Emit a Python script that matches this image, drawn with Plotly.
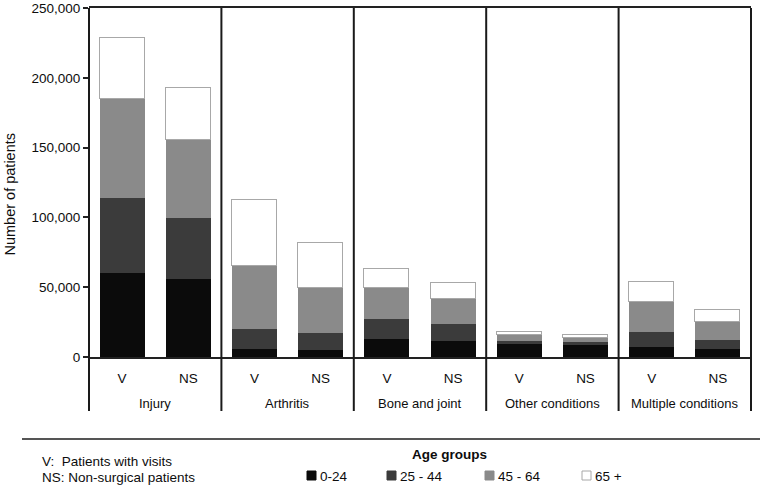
import plotly.graph_objects as go

# ---- data (patients) ----
conditions = ["Injury", "Arthritis", "Bone and joint", "Other conditions", "Multiple conditions"]
groups = ["V", "NS"]
age_groups = ["0-24", "25 - 44", "45 - 64", "65 +"]

# values per bar, ordered: Injury V, Injury NS, Arthritis V, Arthritis NS, ...
age_0_24 = [60500, 55700, 6000, 5200, 12900, 11500, 9600, 8800, 7400, 5500]
age_25_44 = [53500, 43800, 14300, 12000, 14400, 12200, 2100, 1700, 10800, 6900]
age_45_64 = [71000, 56200, 45000, 32500, 22400, 18100, 4100, 3400, 21000, 12700]
age_65_plus = [43500, 37300, 47200, 32300, 13400, 11100, 1900, 1700, 14800, 8600]

series = [age_0_24, age_25_44, age_45_64, age_65_plus]
fills = ["#0b0b0b", "#3b3b3b", "#8a8a8a", "#ffffff"]
borders = ["#0b0b0b", "#3b3b3b", "#8a8a8a", "#a8a8a8"]

y_ticks = [0, 50000, 100000, 150000, 200000, 250000]

# ---- geometry helpers (pixel -> paper) ----
W, H = 762, 488
L, R, T, B = 89, 11, 8, 131
PW, PH = W - L - R, H - T - B


def px(x):
    return (x - L) / PW


def py(y):
    return (H - B - y) / PH


FONT = "Liberation Sans, Arial, sans-serif"
TXT = "#0d0d0d"
ncat = len(conditions)
ng = len(groups)
xpos = [c * ng + j for c in range(ncat) for j in range(ng)]
xlabels = [g for _ in conditions for g in groups]

fig = go.Figure()
for name, vals, fc, lc in zip(age_groups, series, fills, borders):
    fig.add_trace(go.Bar(
        x=xpos, y=vals, name=name, width=0.68,
        marker=dict(color=fc, line=dict(color=lc, width=1.5 if fc == "#ffffff" else 0)),
        showlegend=False,
    ))

shapes = []
# vertical separators (category frames) extending into the label area
for k in range(ncat + 1):
    shapes.append(dict(type="line", xref="paper", yref="paper",
                       x0=k / ncat, x1=k / ncat, y0=py(411), y1=1,
                       line=dict(color="#1a1a1a", width=2)))
# horizontal rule above footer
shapes.append(dict(type="line", xref="paper", yref="paper",
                   x0=px(22), x1=px(760), y0=py(439), y1=py(439),
                   line=dict(color="#555555", width=2)))

annotations = []
for c, name in enumerate(conditions):
    annotations.append(dict(x=c * ng + (ng - 1) / 2, xref="x", y=py(403), yref="paper",
                            text=name, showarrow=False, xanchor="center", yanchor="middle",
                            font=dict(family=FONT, size=13, color=TXT)))

annotations.append(dict(x=px(9.5), xref="paper", y=py(194), yref="paper",
                        text="Number of patients", textangle=-90, showarrow=False,
                        xanchor="center", yanchor="middle",
                        font=dict(family=FONT, size=14.5, color=TXT)))

annotations.append(dict(x=px(40), xref="paper", y=py(461), yref="paper",
                        text="V:&nbsp;&nbsp;Patients with visits", showarrow=False,
                        xanchor="left", yanchor="middle",
                        font=dict(family=FONT, size=13.5, color=TXT)))
annotations.append(dict(x=px(40), xref="paper", y=py(477), yref="paper",
                        text="NS: Non-surgical patients", showarrow=False,
                        xanchor="left", yanchor="middle",
                        font=dict(family=FONT, size=13.5, color=TXT)))
annotations.append(dict(x=px(449.5), xref="paper", y=py(455), yref="paper",
                        text="<b>Age groups</b>", showarrow=False,
                        xanchor="center", yanchor="middle",
                        font=dict(family=FONT, size=13.5, color=TXT)))

# legend swatches + labels
sw_x = [307, 387, 485, 582]
for name, fc, lc, x0 in zip(age_groups, fills, borders, sw_x):
    shapes.append(dict(type="rect", xref="paper", yref="paper",
                       x0=px(x0), x1=px(x0 + 9), y0=py(480), y1=py(471),
                       fillcolor=fc, line=dict(color=lc, width=1)))
    annotations.append(dict(x=px(x0 + 11), xref="paper", y=py(476), yref="paper",
                            text=name, showarrow=False, xanchor="left", yanchor="middle",
                            font=dict(family=FONT, size=13.5, color=TXT)))

fig.update_layout(
    width=W, height=H, autosize=False,
    margin=dict(l=L, r=R, t=T, b=B, autoexpand=False),
    barmode="stack", bargap=0,
    plot_bgcolor="#ffffff", paper_bgcolor="#ffffff",
    font=dict(family=FONT, size=13.5, color=TXT),
    shapes=shapes, annotations=annotations,
    xaxis=dict(range=[-0.5, ncat * ng - 0.5], tickmode="array", tickvals=xpos, ticktext=xlabels,
               ticks="", showgrid=False, zeroline=False, showline=True, mirror=True,
               linecolor="#222222", linewidth=2, ticklabelstandoff=8, automargin=False,
               tickfont=dict(family=FONT, size=13.5, color=TXT)),
    yaxis=dict(range=[0, 250000], tickmode="array", tickvals=y_ticks, tickformat=",",
               ticks="outside", ticklen=5, tickwidth=1.5, tickcolor="#222222",
               showgrid=False, zeroline=False, showline=False, automargin=False,
               tickfont=dict(family=FONT, size=13.5, color=TXT)),
)

fig.write_html("out.html", config={"displayModeBar": False},
               post_script="document.body.style.margin='0px';document.body.style.padding='0px';")
